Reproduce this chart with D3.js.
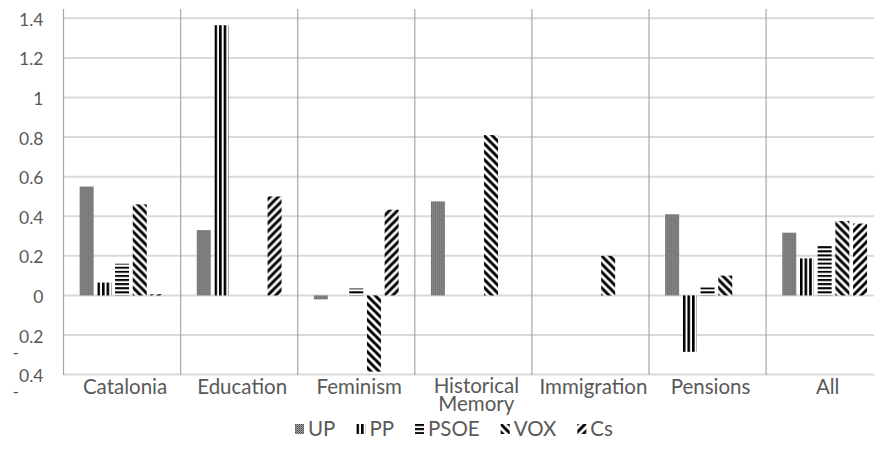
<!DOCTYPE html>
<html>
<head>
<meta charset="utf-8">
<script src="https://cdn.jsdelivr.net/npm/d3@7"></script>
<style>
  html, body { margin: 0; padding: 0; background: #fff; }
  svg { display: block; }
  text { font-family: Lato, "Open Sans", sans-serif; fill: #595959; }
</style>
</head>
<body>
<svg id="chart" width="874" height="449"></svg>
<script>
// Topics (x categories) and party series
const categories = ["Catalonia", "Education", "Feminism", "Historical Memory", "Immigration", "Pensions", "All"];
const series = ["UP", "PP", "PSOE", "VOX", "Cs"];

// One value per topic for each party
const UP   = [0.55, 0.33, -0.02, 0.475, 0, 0.41, 0.317];
const PP   = [0.065, 1.365, 0, 0, 0, -0.285, 0.187];
const PSOE = [0.16, 0, 0.035, 0, 0, 0.04, 0.254];
const VOX  = [0.46, 0, -0.385, 0.81, 0.2, 0.1, 0.376];
const Cs   = [0.006, 0.5, 0.433, 0, 0, 0, 0.363];
const seriesValues = [UP, PP, PSOE, VOX, Cs];

const yTicks = [1.4, 1.2, 1, 0.8, 0.6, 0.4, 0.2, 0, -0.2, -0.4];
const yTickLabels = ["1.4", "1.2", "1", "0.8", "0.6", "0.4", "0.2", "0", "-0.2", "-0.4"];

const svg = d3.select("#chart");
const defs = svg.append("defs");

// Plot geometry (the plot runs slightly past the right edge of the page)
const plotLeft = 63.5, bandW = 117.1, plotTop = 9, plotBottom = 375;
const x0 = d3.scaleBand().domain(categories).range([plotLeft, plotLeft + bandW * categories.length]);
const groupPad = 14.3;
const x1 = d3.scaleBand().domain(series).range([groupPad, bandW - groupPad]);
const barW = 14;
const y = d3.scaleLinear().domain([-0.4, 1.4]).range([374.6, 18.3]);

// Fill pattern builders, anchored at (ox, oy) so stripes line up with each mark
function makePattern(id, kind, ox, oy) {
  const p = defs.append("pattern").attr("id", id)
    .attr("patternUnits", "userSpaceOnUse").attr("x", ox).attr("y", oy);
  if (kind === "UP") {
    p.attr("width", 2).attr("height", 2);
    p.append("rect").attr("width", 2).attr("height", 2).attr("fill", "#a0a0a0");
    p.append("rect").attr("width", 1).attr("height", 1).attr("fill", "#4a4a4a");
    p.append("rect").attr("x", 1).attr("y", 1).attr("width", 1).attr("height", 1).attr("fill", "#6a6a6a");
  } else if (kind === "PP") {
    p.attr("width", 4.6).attr("height", 10);
    p.append("rect").attr("width", 4.6).attr("height", 10).attr("fill", "#fff");
    p.append("rect").attr("width", 2.6).attr("height", 10).attr("fill", "#000");
  } else if (kind === "PSOE") {
    p.attr("width", 10).attr("height", 4.1);
    p.append("rect").attr("width", 10).attr("height", 4.1).attr("fill", "#fff");
    p.append("rect").attr("width", 10).attr("height", 2).attr("fill", "#000");
  } else if (kind === "VOX") {
    p.attr("width", 8).attr("height", 8);
    p.append("rect").attr("width", 8).attr("height", 8).attr("fill", "#fff");
    p.append("path").attr("d", "M-2,-2L10,10M-2,6L2,10M6,-2L10,2")
      .attr("stroke", "#000").attr("stroke-width", 3);
  } else {
    p.attr("width", 8).attr("height", 8);
    p.append("rect").attr("width", 8).attr("height", 8).attr("fill", "#fff");
    p.append("path").attr("d", "M-2,10L10,-2M-2,2L2,-2M6,10L10,6")
      .attr("stroke", "#000").attr("stroke-width", 3);
  }
  return `url(#${id})`;
}

// Horizontal gridlines
svg.append("g").selectAll("line").data(yTicks).join("line")
  .attr("x1", plotLeft).attr("x2", 874)
  .attr("y1", d => y(d)).attr("y2", d => y(d))
  .attr("stroke", "#d9d9d9").attr("stroke-width", 2);

// Category dividers and the value axis line
const dividers = categories.map(c => x0(c)).concat([x0.range()[1]]);
svg.append("g").selectAll("line").data(dividers).join("line")
  .attr("x1", d => d).attr("x2", d => d)
  .attr("y1", plotTop).attr("y2", plotBottom)
  .attr("stroke", "#a6a6a6").attr("stroke-width", 1.2);

// Bars
const zeroY = y(0);
series.forEach((s, si) => {
  const vals = seriesValues[si];
  const g = svg.append("g").attr("class", "series-" + s);
  vals.forEach((v, ci) => {
    if (v === 0) return;
    const bx = x0(categories[ci]) + x1(s) + (x1.bandwidth() - barW) / 2;
    const top = Math.min(y(v), zeroY);
    const h = Math.abs(y(v) - zeroY);
    const fill = makePattern(`p-${si}-${ci}`, s, bx, zeroY);
    g.append("rect").attr("x", bx).attr("y", top)
      .attr("width", barW).attr("height", Math.max(h, 1.2))
      .attr("fill", fill);
  });
});

// Value axis labels (the minus sign sits below the digits)
const yLab = svg.append("g");
yTicks.forEach((t, i) => {
  const label = yTickLabels[i];
  const tx = yLab.append("text").attr("x", 43.5).attr("y", y(t) + 7.5)
    .attr("text-anchor", "end").attr("font-size", 17.5);
  if (label.startsWith("-")) {
    tx.append("tspan").attr("dy", 16).text("-");
    tx.append("tspan").attr("dy", -16).text(label.slice(1));
  } else {
    tx.text(label);
  }
});

// Category labels, wrapped onto two lines where needed
const xLab = svg.append("g");
categories.forEach(c => {
  const words = c.split(" ");
  const cx = x0(c) + bandW / 2 + 3;
  const t = xLab.append("text").attr("text-anchor", "middle").attr("font-size", 20.5)
    .attr("x", cx).attr("y", words.length > 1 ? 392.5 : 394);
  words.forEach((w, i) => {
    t.append("tspan").attr("x", cx).attr("dy", i === 0 ? 0 : 18.5).text(w);
  });
});

// Legend
const legend = svg.append("g");
let lx = 295;
series.forEach((s, si) => {
  const fill = makePattern(`lg-${si}`, s, lx, 424);
  legend.append("rect").attr("x", lx).attr("y", 424).attr("width", 9).attr("height", 10).attr("fill", fill);
  const t = legend.append("text").attr("x", lx + 13).attr("y", 436).attr("font-size", 20.5).text(s);
  lx += 13 + t.node().getComputedTextLength() + 21;
});
</script>
</body>
</html>
